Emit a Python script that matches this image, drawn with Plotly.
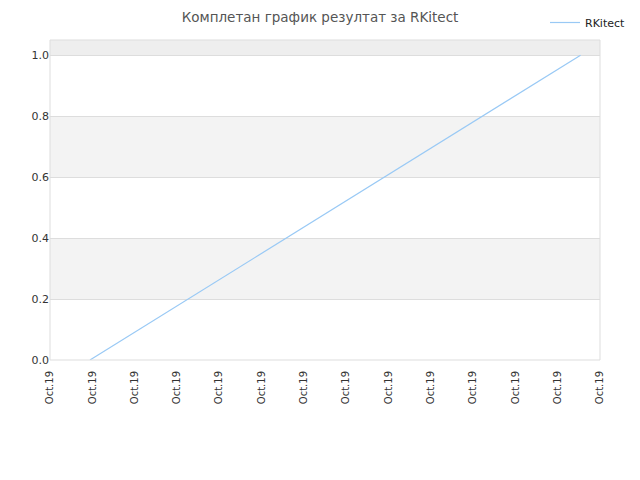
import plotly.graph_objects as go

# chart values
tick_labels = ['Oct.19'] * 14
tick_pos = list(range(14))
line_x = [0.945, 12.54]
line_y = [0.0, 1.0]
band_edges = [(0.2, 0.4), (0.6, 0.8)]
top_band = (1.0, 1.05)

fig = go.Figure()
fig.add_trace(go.Scatter(x=line_x, y=line_y, mode='lines', name='RKitect',
                         line=dict(color='#99c9f5', width=1.2)))

shapes = []
for lo, hi in band_edges:
    shapes.append(dict(type='rect', xref='paper', yref='y', x0=0, x1=1, y0=lo, y1=hi,
                       fillcolor='#f3f3f3', line=dict(width=0), layer='below'))
shapes.append(dict(type='rect', xref='paper', yref='y', x0=0, x1=1, y0=top_band[0], y1=top_band[1],
                   fillcolor='#eeeeee', line=dict(width=0), layer='below'))
shapes.append(dict(type='rect', xref='paper', yref='paper', x0=0, x1=1, y0=0, y1=1,
                   line=dict(color='#dddddd', width=1), layer='above'))

# page body adds an 8px offset, so margins are shifted to compensate
fig.update_layout(
    width=640, height=480,
    margin=dict(l=42, r=48, t=32, b=128, autoexpand=False),
    paper_bgcolor='white', plot_bgcolor='white',
    font=dict(family='DejaVu Sans', size=11, color='#333333'),
    title=dict(text='Комплетан график резултат за RKitect', x=312 / 640, xanchor='center',
               y=0.99, yanchor='top', font=dict(size=13.5, color='#555555')),
    showlegend=True,
    legend=dict(x=537 / 640, xanchor='left', y=1.016, yanchor='top', xref='container', yref='container',
                bgcolor='rgba(0,0,0,0)', font=dict(size=11, color='#222222')),
    shapes=shapes,
    xaxis=dict(range=[0, 13], tickvals=tick_pos, ticktext=tick_labels, tickangle=-90,
               showgrid=False, zeroline=False, showline=False, ticks='', ticklabelstandoff=8,
               tickfont=dict(family='DejaVu Sans', size=10, color='#333333')),
    yaxis=dict(range=[0, 1.05], tickvals=[0, 0.2, 0.4, 0.6, 0.8, 1.0],
               ticktext=['0.0', '0.2', '0.4', '0.6', '0.8', '1.0'],
               showgrid=True, gridcolor='#dddddd', zeroline=False, showline=False, ticks='',
               tickfont=dict(size=11, color='#333333')),
)

fig.write_html("out.html")
